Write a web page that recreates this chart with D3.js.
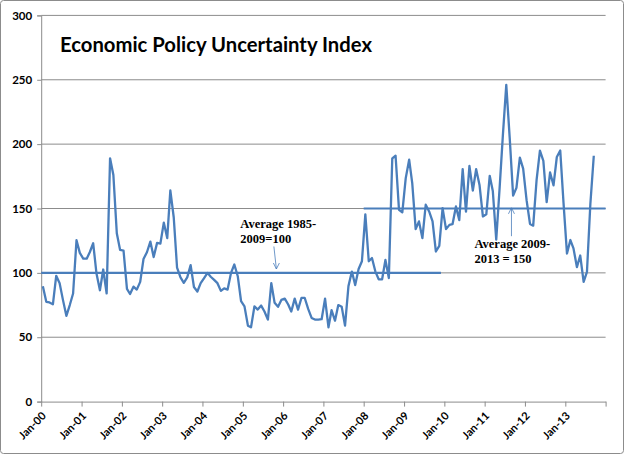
<!DOCTYPE html>
<html>
<head>
<meta charset="utf-8">
<script src="https://cdn.jsdelivr.net/npm/d3@7"></script>
<style>
  body { margin: 0; background: white; }
  text { font-family: Lato, "Liberation Sans", sans-serif; }
</style>
</head>
<body>
<div id="wrapper"></div>
<script>
// monthly index values, Jan-00 .. Sep-13
const startYear = 2000;
const epu = [
    89.6, 77.5, 77, 75.6, 97.7, 92, 79, 66.6, 75, 84, 125.4, 115.5,
    111, 111, 116, 123, 99.5, 86.5, 102.6, 84, 189, 176, 130.8, 117.8,
    117.3, 87.5, 83.6, 89.3, 87, 93, 110.8, 116, 124.3, 112.3, 123.3, 122.8,
    139, 127, 164, 143, 104, 96.5, 92.3, 96.5, 106, 89, 85.5, 92,
    96, 100, 97, 94.6, 92, 86, 88, 87, 100, 106.5, 97.4, 78,
    74, 59, 57.7, 74, 71.5, 74.6, 70, 63.7, 92, 76.7, 73.6, 79,
    80, 75.4, 70, 80, 71.5, 80.5, 80.5, 72, 65, 63.7, 63.7, 64,
    80, 57.7, 71, 62.8, 75, 73.6, 59, 89.7, 101, 90.5, 103, 109,
    145.5, 109, 111.5, 101, 95, 95, 110, 96, 189, 191, 149, 147,
    173.6, 187.9, 169.7, 134, 140, 127, 152.9, 147.7, 140, 116.6, 121, 150.3,
    134, 137.3, 137.8, 151.6, 141, 180.6, 147.5, 183, 164, 180.5, 168, 143.8,
    145.5, 175.4, 163.6, 125.8, 165, 208, 246, 205, 160, 166, 189.5, 181,
    156.5, 138, 136.7, 172.5, 195, 187, 155, 178, 168, 190, 195, 154,
    115, 125.5, 119, 104.5, 113.5, 93, 100.7, 153.7, 191
];
const yTicks = [0, 50, 100, 150, 200, 250, 300];
const yearTicks = d3.range(2000, 2015);

// average reference lines [value, from, to]
const avgValues = [100, 150];
const avgFrom = ["2000-01", "2008-01"];
const avgTo = ["2009-12", "2014-01"];

// annotations: text lines, arrow tip (month, value), arrow tail value
const noteLines = [["Average 1985-", "2009=100"], ["Average 2009-", "2013 = 150"]];
const noteMonth = ["2005-11", "2011-09"];
const noteTip = [103, 150.5];
const noteTail = [120.5, 128.5];

const title = "Economic Policy Uncertainty Index";

const blue = "#4a7ebb";
const grid = "#8c8c8c";

const dimension = {
    width: 624,
    height: 454,
    margin: { top: 15.4, right: 18.4, bottom: 52.4, left: 41.2 }
};
dimension.boundedWidth  = dimension.width  - dimension.margin.left - dimension.margin.right;
dimension.boundedHeight = dimension.height - dimension.margin.top  - dimension.margin.bottom;

const parseMonth = d3.timeParse("%Y-%m");
const data = epu.map((v, i) => ({ date: new Date(startYear, i, 16), value: v }));

const svg = d3.select("#wrapper")
    .append("svg")
    .attr("width", dimension.width)
    .attr("height", dimension.height);

// outer chart border
svg.append("rect")
    .attr("x", 0.5).attr("y", 0.5)
    .attr("width", dimension.width - 1).attr("height", dimension.height - 1)
    .attr("rx", 3)
    .attr("fill", "white")
    .attr("stroke", "#8c8c8c");

const g = svg.append("g")
    .attr("transform", "translate(" + dimension.margin.left + "," + dimension.margin.top + ")");

const x = d3.scaleTime()
    .domain([new Date(2000, 0, 1), new Date(2014, 0, 1)])
    .range([0, dimension.boundedWidth]);

const y = d3.scaleLinear()
    .domain([0, 300])
    .range([dimension.boundedHeight, 0]);

// gridlines
g.append("g")
    .selectAll("line")
    .data(yTicks.filter(d => d > 0))
    .enter()
    .append("line")
    .attr("x1", 0).attr("x2", dimension.boundedWidth)
    .attr("y1", d => y(d)).attr("y2", d => y(d))
    .attr("stroke", grid).attr("stroke-width", 1);

// Y axis
const yAxis = g.append("g")
    .call(d3.axisLeft(y).tickValues(yTicks).tickSize(4).tickPadding(5));
yAxis.select(".domain").attr("stroke", grid);
yAxis.selectAll(".tick line").attr("stroke", grid);
yAxis.selectAll("text")
    .attr("fill", "black")
    .style("font-size", "11.5px")
    .style("font-weight", "bold")
    .style("font-family", "Lato, sans-serif");

// X axis
const xAxis = g.append("g")
    .attr("transform", "translate(0," + dimension.boundedHeight + ")")
    .call(d3.axisBottom(x)
        .tickValues(yearTicks.map(yr => new Date(yr, 0, 1)))
        .tickSize(5)
        .tickSizeOuter(0)
        .tickFormat(d => d.getFullYear() < 2014 ? d3.timeFormat("Jan-%y")(d) : ""));
xAxis.select(".domain").attr("stroke", grid);
xAxis.selectAll(".tick line").attr("stroke", grid);
xAxis.selectAll("text")
    .attr("fill", "black")
    .attr("text-anchor", "end")
    .attr("dy", null)
    .attr("y", 0)
    .attr("transform", "translate(5,15) rotate(-45)")
    .style("font-size", "11px")
    .style("font-weight", "bold")
    .style("font-family", "Lato, sans-serif");

// average lines
g.append("g")
    .selectAll("line")
    .data(avgValues)
    .enter()
    .append("line")
    .attr("x1", (d, i) => x(parseMonth(avgFrom[i])))
    .attr("x2", (d, i) => x(parseMonth(avgTo[i])))
    .attr("y1", d => y(d)).attr("y2", d => y(d))
    .attr("stroke", blue)
    .attr("stroke-width", 2.2);

// index line
g.append("path")
    .datum(data)
    .attr("fill", "none")
    .attr("stroke", blue)
    .attr("stroke-width", 2.3)
    .attr("stroke-linejoin", "round")
    .attr("d", d3.line().x(d => x(d.date)).y(d => y(d.value)));

// annotations
const notes = g.append("g");
noteLines.forEach((lines, i) => {
    const ax = x(parseMonth(noteMonth[i]));
    const tipY = y(noteTip[i]);
    const tailY = y(noteTail[i]);
    const up = noteTip[i] > noteTail[i];
    const tailX = up ? ax : ax - 2.5;

    notes.append("line")
        .attr("x1", tailX).attr("y1", tailY)
        .attr("x2", ax).attr("y2", tipY)
        .attr("stroke", blue).attr("stroke-width", 0.8);
    const s = up ? 1 : -1;
    notes.append("path")
        .attr("d", "M" + (ax - 3) + "," + (tipY + 6 * s) + "L" + ax + "," + tipY + "L" + (ax + 3) + "," + (tipY + 6 * s))
        .attr("fill", "none").attr("stroke", blue).attr("stroke-width", 0.8);

    const tx = up ? ax - 37 : ax - 36;
    const ty = up ? tailY + 12 : tailY - 18.5;
    notes.append("text")
        .attr("x", tx).attr("y", ty)
        .style("font-family", "'Liberation Serif', serif")
        .style("font-weight", "bold")
        .style("font-size", "12.5px")
        .attr("fill", "black")
        .selectAll("tspan")
        .data(lines)
        .enter()
        .append("tspan")
        .attr("x", tx)
        .attr("dy", (d, j) => j === 0 ? 0 : 15)
        .text(d => d);
});

// title
svg.append("text")
    .attr("x", 60).attr("y", 51.5)
    .attr("textLength", 312)
    .attr("lengthAdjust", "spacingAndGlyphs")
    .style("font-size", "20px")
    .style("font-weight", "bold")
    .attr("fill", "black")
    .text(title);
</script>
</body>
</html>
